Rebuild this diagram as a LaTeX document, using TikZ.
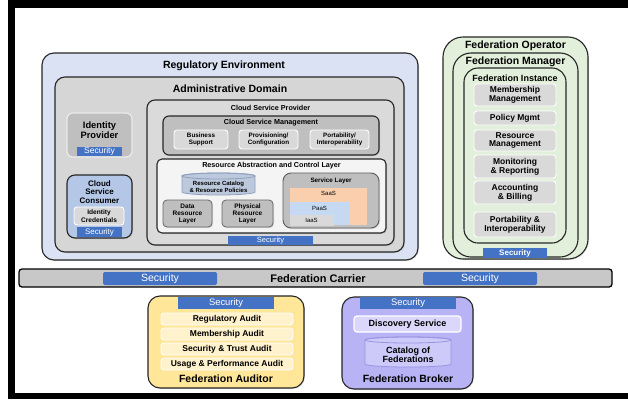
\documentclass[tikz,border=0pt]{standalone}
\usepackage{fontspec}
\setmainfont{Liberation Sans}
\usetikzlibrary{shadows}

\definecolor{edge}{HTML}{262626}
\definecolor{regbg}{HTML}{DAE2F3}
\definecolor{admbg}{HTML}{D6D6D6}
\definecolor{cspbg}{HTML}{DADADA}
\definecolor{midgray}{HTML}{BFBFBF}
\definecolor{itemgray}{HTML}{D9D9D9}
\definecolor{racl}{HTML}{F4F4F4}
\definecolor{catblue}{HTML}{BCC8DC}
\definecolor{catedge}{HTML}{8E9FBD}
\definecolor{saas}{HTML}{F9CFAE}
\definecolor{paas}{HTML}{C6D9F3}
\definecolor{secblue}{HTML}{4472C4}
\definecolor{consumer}{HTML}{B4C7E7}
\definecolor{carrier}{HTML}{C8C8C8}
\definecolor{auditor}{HTML}{FFE699}
\definecolor{auditrow}{HTML}{FFF2CC}
\definecolor{broker}{HTML}{B8B3F5}
\definecolor{brokerrow}{HTML}{DAD7FB}
\definecolor{brokercyl}{HTML}{CDC9F9}
\definecolor{brokeredge}{HTML}{9A95E0}
\definecolor{fedgreen}{HTML}{E2EFDA}

\newcommand\fsz[2]{\fontsize{#1}{#2}\selectfont}

% cylinder between (x1,y1) and (x2,y2): fill colour, edge colour
\newcommand\cyl[6]{%
  \filldraw[fill=#5, draw=#6, line width=0.8pt]
    (#1,{#2+3}) -- (#1,{#4-3})
    arc[start angle=180, end angle=0, x radius={(#3-#1)/2}, y radius=3]
    -- (#3,{#2+3})
    arc[start angle=0, end angle=-180, x radius={(#3-#1)/2}, y radius=3] -- cycle;
  \draw[draw=#6, line width=0.8pt] ({(#1+#3)/2},{#2+3})
    ellipse[x radius={(#3-#1)/2}, y radius=3];}

\tikzset{
  % a box spanning (x1,y1) to (x2,y2), text centred
  bx/.style n args={4}{at={({(#1+#3)/2},{(#2+#4)/2})},
    minimum width={(#3-#1)*1pt}, minimum height={(#4-#2)*1pt},
    inner sep=0pt, align=center},
  panel/.style={draw=edge, line width=1.1pt, rounded corners=#1,
    drop shadow={opacity=0.25, shadow xshift=1pt, shadow yshift=-1pt}},
  item/.style={draw=white, line width=0.9pt, rounded corners=3pt, font=\bfseries},
  sec/.style={fill=secblue, text=white},
  lbl/.style={inner sep=0pt, align=center, font=\bfseries},
}

\begin{document}
\begin{tikzpicture}[x=1pt, y=-1pt]
\useasboundingbox (0,0) rectangle (628,399);

% page frame
\fill[black] (8,0) rectangle (628,399);
\fill[white] (15,8) rectangle (628,393);

% ---------- regulatory environment ----------
\node[panel=12pt, fill=regbg, bx={42}{53}{418}{260}] (reg) {};
\node[lbl, font=\bfseries\fsz{10.5}{12}] (regt) at (224,66) {Regulatory Environment};

\node[panel=10pt, fill=admbg, bx={55}{77}{404}{252}] (adm) {};
\node[lbl, font=\bfseries\fsz{10.5}{12}] (admt) at (230,89) {Administrative Domain};

% identity provider
\node[draw=white!92!black, line width=1.2pt, fill=midgray, rounded corners=6pt,
      bx={67}{113}{132}{157}] (idp) {};
\node[lbl, font=\bfseries\fsz{9.3}{10.5}] (idpt) at (99.5,130) {Identity\\Provider};
\node[sec, bx={77}{147}{122}{156}, font=\fsz{8.5}{9}] (idps) {Security};

% cloud service consumer
\node[panel=8pt, fill=consumer, bx={67}{175}{132}{238}] (csc) {};
\node[lbl, font=\bfseries\fsz{8}{8.6}] (csct) at (99.5,192) {Cloud\\Service\\Consumer};
\node[item, fill=itemgray, bx={74}{207}{124}{225}, font=\bfseries\fsz{6.6}{7.4}] (idc) {Identity\\Credentials};
\node[sec, bx={77}{227}{122}{237}, font=\fsz{8}{8}] (cscs) {Security};

% cloud service provider
\node[panel=8pt, fill=cspbg, bx={147}{100}{394}{245}] (csp) {};
\node[lbl, font=\bfseries\fsz{7.2}{8}] (cspt) at (270.5,108) {Cloud Service Provider};

\node[panel=6pt, fill=midgray, bx={163}{116}{379}{155}] (csm) {};
\node[lbl, font=\bfseries\fsz{7.2}{8}] (csmt) at (271,123) {Cloud Service Management};
\node[item, fill=itemgray, bx={174}{130}{228}{149}, font=\bfseries\fsz{6.3}{7}] (bs) {Business\\Support};
\node[item, fill=itemgray, bx={239}{130}{298}{149}, font=\bfseries\fsz{6.3}{7}] (prov) {Provisioning/\\Configuration};
\node[item, fill=itemgray, bx={310}{130}{369}{149}, font=\bfseries\fsz{6.3}{7}] (port) {Portability/\\Interoperability};

\node[panel=5pt, fill=racl, bx={157}{159}{386}{233}] (racl) {};
\node[lbl, font=\bfseries\fsz{7.2}{8}] (raclt) at (271.5,166) {Resource Abstraction and Control Layer};

\cyl{182}{173}{255}{195}{catblue}{catedge}
\node[lbl, font=\bfseries\fsz{6}{6.8}] (rcat) at (218.5,186.5) {Resource Catalog\\\& Resource Policies};

\node[panel=4pt, line width=0.8pt, draw=edge!70, fill=midgray, bx={163}{200}{212}{227},
      font=\bfseries\fsz{6.5}{7}] (drl) {Data\\Resource\\Layer};
\node[panel=4pt, line width=0.8pt, draw=edge!70, fill=midgray, bx={222}{200}{273}{227},
      font=\bfseries\fsz{6.5}{7}] (prl) {Physical\\Resource\\Layer};

\node[panel=8pt, line width=0.9pt, draw=edge!75, fill=midgray, bx={283}{173}{379}{228}] (sl) {};
\node[lbl, font=\bfseries\fsz{6.3}{7}] (slt) at (331,181) {Service Layer};
\node[fill=saas, bx={290}{188}{367}{225}] (saas) {};
\node[inner sep=0pt, font=\fsz{6}{7}] (saast) at (328.5,193) {SaaS};
\node[fill=paas, bx={290}{202}{349}{225}] (paas) {};
\node[inner sep=0pt, font=\fsz{6}{7}] (paast) at (319.5,208) {PaaS};
\node[fill=itemgray, draw=white!85!black, line width=0.5pt,
      bx={290}{215}{333}{225}, font=\fsz{6}{7}] (iaas) {IaaS};

\node[sec, bx={228}{236}{313}{245}, font=\fsz{7.5}{8}] (csps) {Security};

% ---------- federation operator ----------
\node[panel=20pt, fill=fedgreen, bx={443}{37}{588}{259}] (fop) {};
\node[lbl, font=\bfseries\fsz{10.5}{11}] (fopt) at (515.5,45.5) {Federation Operator};
\node[draw=edge, line width=1.1pt, rounded corners=18pt, fill=fedgreen,
      bx={453}{53}{578}{257}] (fmg) {};
\node[lbl, font=\bfseries\fsz{10.5}{11}] (fmgt) at (515.5,61.5) {Federation Manager};
\node[draw=edge, line width=1.1pt, rounded corners=14pt, fill=fedgreen,
      bx={464}{68}{566}{243}] (fin) {};
\node[lbl, font=\bfseries\fsz{9}{9}] (fint) at (515,78) {Federation Instance};

\node[item, fill=itemgray, bx={474}{84}{556}{106}, font=\bfseries\fsz{8.5}{8.8}] (mm) {Membership\\Management};
\node[item, fill=itemgray, bx={474}{111}{556}{125}, font=\bfseries\fsz{8.5}{8.8}] (pm) {Policy Mgmt};
\node[item, fill=itemgray, bx={474}{130}{556}{151}, font=\bfseries\fsz{8.5}{8.8}] (rm) {Resource\\Management};
\node[item, fill=itemgray, bx={474}{155}{556}{178}, font=\bfseries\fsz{8.5}{8.8}] (mr) {Monitoring\\\& Reporting};
\node[item, fill=itemgray, bx={474}{181}{556}{204}, font=\bfseries\fsz{8.5}{8.8}] (ab) {Accounting\\\& Billing};
\node[item, fill=itemgray, bx={474}{212}{556}{237}, font=\bfseries\fsz{8.5}{8.8}] (pi) {Portability \&\\Interoperability};
\node[sec, bx={483}{248}{547}{258}, font=\bfseries\fsz{8}{8}] (fops) {Security};

% ---------- federation carrier ----------
\node[draw=black, line width=1.3pt, fill=carrier, rounded corners=3pt,
      bx={19}{269}{612}{287}] (fc) {};
\node[sec, rounded corners=2pt, bx={103}{272}{217}{285}, font=\fsz{10.5}{11}] (fcs1) {Security};
\node[sec, rounded corners=2pt, bx={423}{272}{537}{285}, font=\fsz{10.5}{11}] (fcs2) {Security};
\node[lbl, font=\bfseries\fsz{11}{12}] (fct) at (318,278.5) {Federation Carrier};

% ---------- federation auditor ----------
\node[panel=12pt, fill=auditor, bx={148}{296}{304}{388}] (aud) {};
\node[sec, bx={178}{297}{274}{309}, font=\fsz{9.4}{10}] (auds) {Security};
\node[item, fill=auditrow, bx={161}{313}{293}{325}, font=\bfseries\fsz{8.5}{9}] (ra) {Regulatory Audit};
\node[item, fill=auditrow, bx={161}{328}{293}{340}, font=\bfseries\fsz{8.5}{9}] (ma) {Membership Audit};
\node[item, fill=auditrow, bx={161}{343}{293}{355}, font=\bfseries\fsz{8.5}{9}] (sta) {Security \& Trust Audit};
\node[item, fill=auditrow, bx={161}{358}{293}{370}, font=\bfseries\fsz{8.5}{9}] (upa) {Usage \& Performance Audit};
\node[lbl, font=\bfseries\fsz{10.5}{11}] (audt) at (226,378.5) {Federation Auditor};

% ---------- federation broker ----------
\node[panel=12pt, fill=broker, bx={342}{297}{473}{389}] (brk) {};
\node[sec, bx={360}{297}{456}{309}, font=\fsz{9.4}{10}] (brks) {Security};
\node[item, line width=1.2pt, fill=brokerrow, bx={354}{316}{461}{332}, font=\bfseries\fsz{9}{10}] (ds) {Discovery Service};
\cyl{365}{337}{451}{367}{brokercyl}{brokeredge}
\node[lbl, font=\bfseries\fsz{9}{9}] (cof) at (408,355) {Catalog of\\Federations};
\node[lbl, font=\bfseries\fsz{10.5}{11}] (brkt) at (408,378.5) {Federation Broker};

\end{tikzpicture}
\end{document}
